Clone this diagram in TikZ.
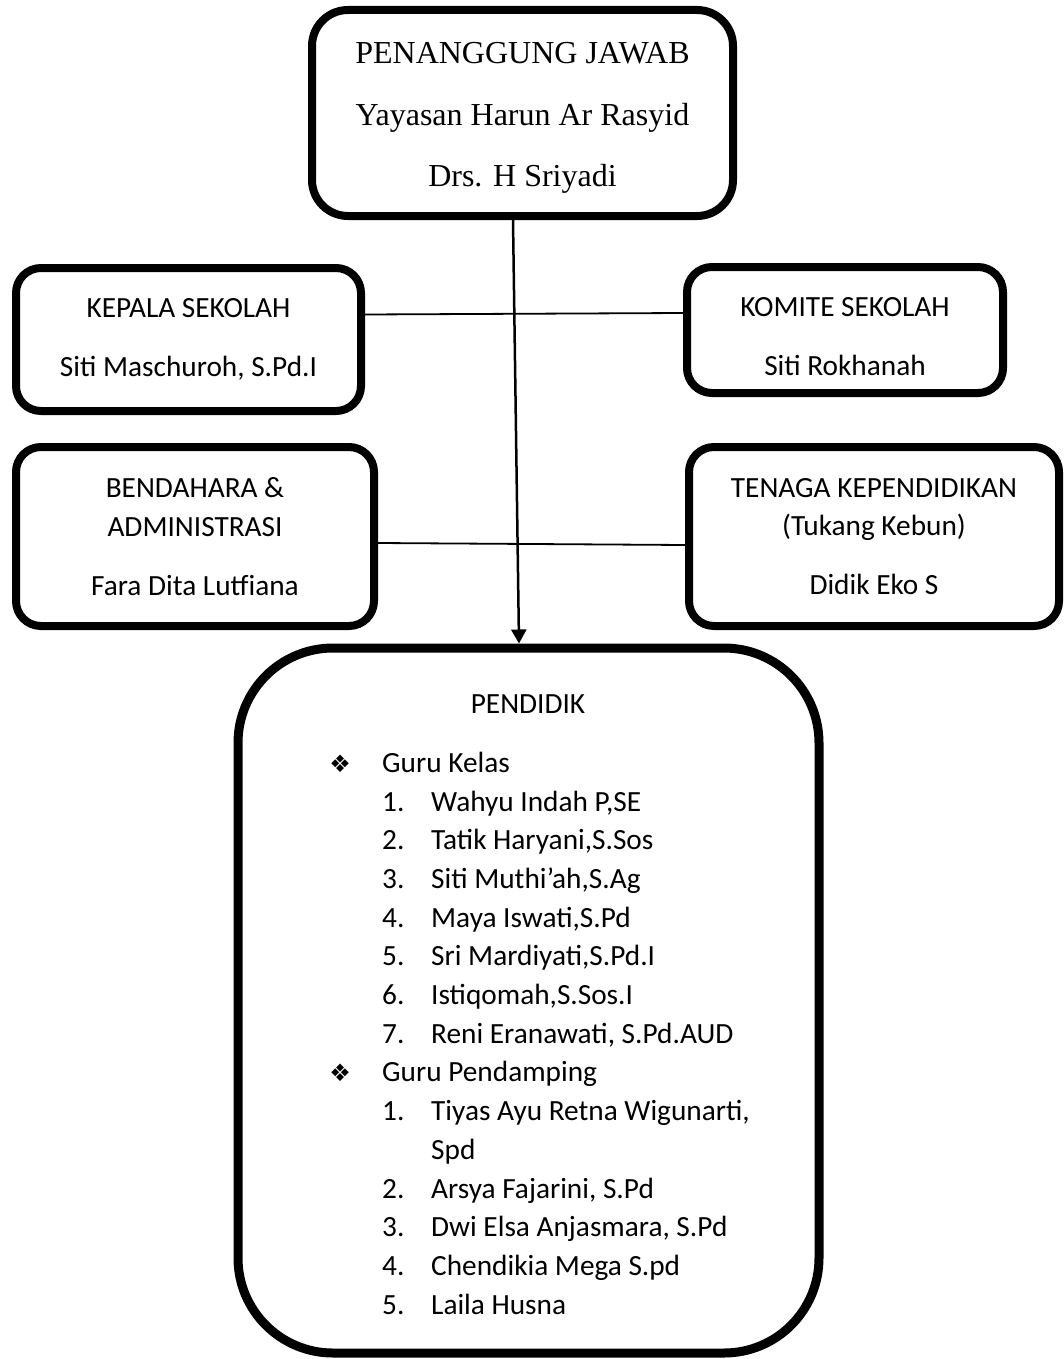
\documentclass[tikz,border=0pt]{standalone}
\usepackage{fontspec}
\setmainfont{Carlito}
\newfontfamily\timesfont{Liberation Serif}
\newfontfamily\symfont{DejaVu Sans}
\usetikzlibrary{arrows.meta}

\newcommand{\bodysize}{\fontsize{29.3}{38.7}\selectfont}
\newcommand{\headsize}{\timesfont\fontsize{32}{61.5}\selectfont}
\newcommand{\diamondbullet}{\makebox[24pt]{\symfont\fontsize{24}{24}\selectfont ❖}}

\begin{document}
\begin{tikzpicture}[
      x=1pt, y=-1pt,
      box/.style={draw, line width=8pt, rounded corners=25pt, align=center,
                  font=\bodysize, inner sep=0pt},
      plain/.style={inner sep=0pt, font=\bodysize},
      link/.style={line width=1.8pt},
      arrow/.style={-{Triangle[width=15pt,length=14pt]}, line width=2.5pt}
    ]
      \useasboundingbox (0,0) rectangle (1064,1359);
      \node[box, font=\headsize, rounded corners=36pt,
            minimum width=421pt, minimum height=206pt] (pj) at (522.5,113)
            {\rule{0pt}{31pt}PENANGGUNG JAWAB\\Yayasan Harun Ar Rasyid\\Drs. H Sriyadi};
      \node[box, minimum width=345pt, minimum height=143pt] (kepsek) at (188.5,339.5)
            {KEPALA SEKOLAH\\[20.3pt]Siti Maschuroh, S.Pd.I};
      \node[box, minimum width=316pt, minimum height=126pt] (komite) at (845,330)
            {\rule{0pt}{33pt}KOMITE SEKOLAH\\[20.3pt]Siti Rokhanah};
      \node[box, minimum width=358pt, minimum height=179pt] (bendahara) at (195,536.5)
            {BENDAHARA \&\\ADMINISTRASI\\[20.3pt]Fara Dita Lutfiana};
      \node[box, minimum width=370pt, minimum height=179pt] (tendik) at (874,536.5)
            {TENAGA KEPENDIDIKAN\\(Tukang Kebun)\\[20.3pt]Didik Eko S};
      \node[box, line width=9pt, rounded corners=95pt,
            minimum width=581pt, minimum height=705pt] (pendidik) at (528.5,1000.5) {};
      \node[plain, anchor=base] (pendtitle) at (528,713) {PENDIDIK};
      \node[plain, anchor=north west] (pendlist) at (328,745) {%
        \begin{tabular}{@{}p{54pt}@{}p{49pt}@{}l@{}}
          \diamondbullet & \multicolumn{2}{@{}l@{}}{Guru Kelas}\\
          & 1. & Wahyu Indah P,SE\\
          & 2. & Tatik Haryani,S.Sos\\
          & 3. & Siti Muthi’ah,S.Ag\\
          & 4. & Maya Iswati,S.Pd\\
          & 5. & Sri Mardiyati,S.Pd.I\\
          & 6. & Istiqomah,S.Sos.I\\
          & 7. & Reni Eranawati, S.Pd.AUD\\
          \diamondbullet & \multicolumn{2}{@{}l@{}}{Guru Pendamping}\\
          & 1. & Tiyas Ayu Retna Wigunarti,\\
          &    & Spd\\
          & 2. & Arsya Fajarini, S.Pd\\
          & 3. & Dwi Elsa Anjasmara, S.Pd\\
          & 4. & Chendikia Mega S.pd\\
          & 5. & Laila Husna
        \end{tabular}};
      \draw[link] ([yshift=25pt]kepsek.east) -- ([yshift=17pt]komite.west);
      \draw[link] ([yshift=-6.5pt]bendahara.east) -- ([yshift=-8.5pt]tendik.west);
      \draw[arrow] ([xshift=-9.5pt]pj.south) -- ([xshift=-9.5pt]pendidik.north);
    \end{tikzpicture}
\end{document}
